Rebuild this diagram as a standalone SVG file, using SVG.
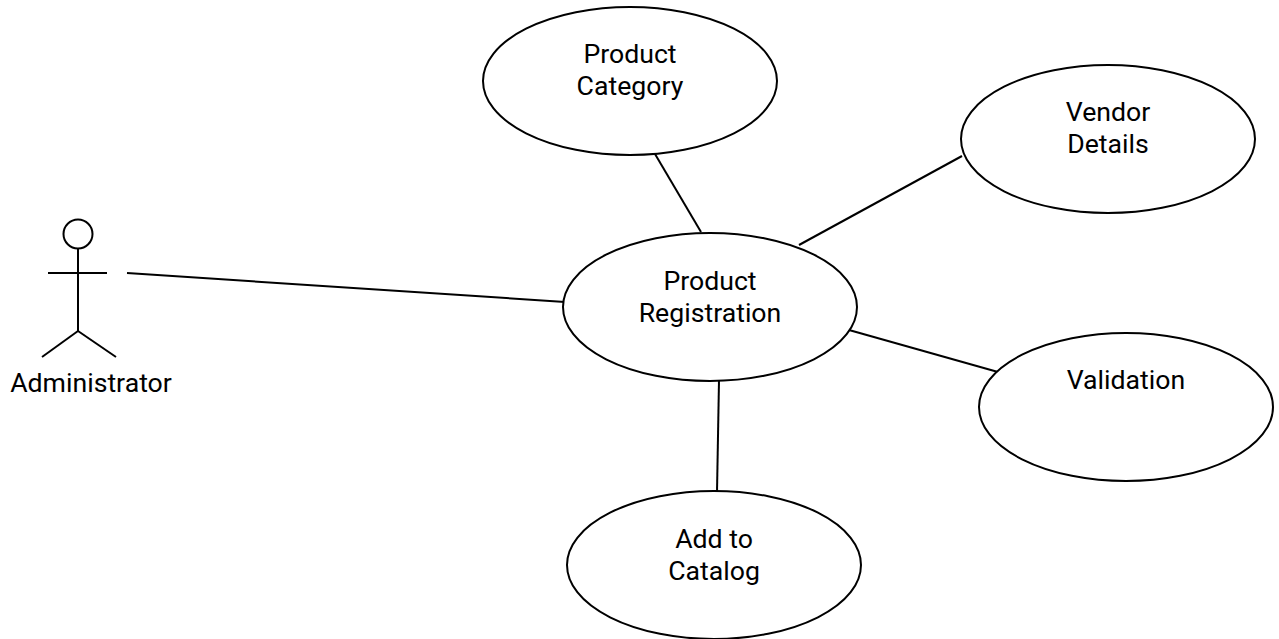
<svg xmlns="http://www.w3.org/2000/svg" width="1279" height="639" viewBox="0 0 1279 639">
<style>
.s{fill:none;stroke:#000;stroke-width:2}
.e{fill:#fff;stroke:#000;stroke-width:2}
text{font-family:Roboto,"Liberation Sans",sans-serif;font-size:26.67px;fill:#000;text-anchor:middle}
</style>
<rect width="1279" height="639" fill="#fff"/>
<g id="connectors" class="s">
<line x1="127" y1="273" x2="565" y2="302"/>
<line x1="655" y1="154" x2="701" y2="232"/>
<line x1="799" y1="245" x2="962" y2="156"/>
<line x1="849" y1="330" x2="998" y2="372"/>
<line x1="719" y1="380" x2="717" y2="492"/>
</g>
<g id="actor" class="s">
<circle cx="78" cy="234" r="14.5"/>
<line x1="78" y1="249" x2="78" y2="331"/>
<line x1="48" y1="273" x2="107" y2="273"/>
<line x1="78" y1="331" x2="42" y2="357"/>
<line x1="78" y1="331" x2="116" y2="357"/>
</g>
<text x="91" y="392">Administrator</text>
<g id="category"><ellipse class="e" cx="630" cy="81" rx="147" ry="74"/><text x="630" y="63">Product</text><text x="630" y="95">Category</text></g>
<g id="vendor"><ellipse class="e" cx="1108" cy="139" rx="147" ry="74"/><text x="1108" y="121">Vendor</text><text x="1108" y="153">Details</text></g>
<g id="registration"><ellipse class="e" cx="710" cy="307" rx="147" ry="74"/><text x="710" y="290">Product</text><text x="710" y="322">Registration</text></g>
<g id="validation"><ellipse class="e" cx="1126" cy="407" rx="147" ry="74"/><text x="1126" y="389">Validation</text></g>
<g id="catalog"><ellipse class="e" cx="714" cy="565" rx="147" ry="74"/><text x="714" y="548">Add to</text><text x="714" y="580">Catalog</text></g>
</svg>
